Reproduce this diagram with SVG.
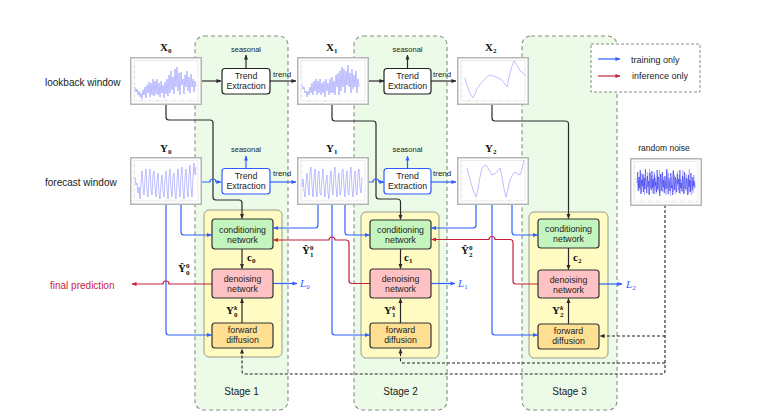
<svg xmlns="http://www.w3.org/2000/svg" xmlns:xlink="http://www.w3.org/1999/xlink" width="760" height="417" viewBox="0 0 760 417">
<style>
.t{font-family:"Liberation Sans",Arial,sans-serif;fill:#1a1a1a}
.n{font-family:"Liberation Sans",Arial,sans-serif;font-size:8.8px;text-anchor:middle;fill:#222}
.s{font-family:"Liberation Sans",Arial,sans-serif;font-size:7.5px;text-anchor:middle;fill:#222}
.m{font-family:"Liberation Serif","Times New Roman",serif;font-weight:bold;font-size:11px;fill:#111}
.sub{font-size:7px}
.L{font-family:"Liberation Serif","Times New Roman",serif;font-style:italic;font-size:11px;fill:#2f5bff}
.stage{fill:#ecfbe8;stroke:#8a8a8a;stroke-width:1.1;stroke-dasharray:4 3}
.panel{fill:#fffbc2;stroke:#9a9a8a;stroke-width:1}
.cond{fill:#c4f5bf;stroke:#333;stroke-width:1.2}
.den{fill:#ffc2c4;stroke:#333;stroke-width:1.2}
.fwd{fill:#ffdf92;stroke:#333;stroke-width:1.2}
.te{fill:#fff;stroke:#222;stroke-width:1.2}
.teb{fill:#fff;stroke:#2f5bff;stroke-width:1.2}
.k{fill:none;stroke:#2a2a2a;stroke-width:1.2;marker-end:url(#ak)}
.kd{fill:none;stroke:#222;stroke-width:1.1;stroke-dasharray:3 2;marker-end:url(#ak)}
.b{fill:none;stroke:#3060ff;stroke-width:1.2;marker-end:url(#ab)}
.r{fill:none;stroke:#c8203c;stroke-width:1.2;marker-end:url(#ar)}
.ser{fill:none;stroke:#8a8aff;stroke-width:0.55;stroke-linejoin:round}
.noise{fill:none;stroke:#3a3af0;stroke-width:0.6;vector-effect:non-scaling-stroke}
.noise2{fill:none;stroke:#9a9aff;stroke-width:0.6;vector-effect:non-scaling-stroke}
</style>
<defs>
<marker id="ak" viewBox="0 0 6 6" refX="5.5" refY="3" markerWidth="5" markerHeight="5" markerUnits="userSpaceOnUse" orient="auto"><path d="M0,0.6 L6,3 L0,5.4 z" fill="#2a2a2a"/></marker>
<marker id="ab" viewBox="0 0 6 6" refX="5.5" refY="3" markerWidth="5" markerHeight="5" markerUnits="userSpaceOnUse" orient="auto"><path d="M0,0.6 L6,3 L0,5.4 z" fill="#3060ff"/></marker>
<marker id="ar" viewBox="0 0 6 6" refX="5.5" refY="3" markerWidth="5" markerHeight="5" markerUnits="userSpaceOnUse" orient="auto"><path d="M0,0.6 L6,3 L0,5.4 z" fill="#c8203c"/></marker>
<g id="pf">
<rect x="0.75" y="0.75" width="70.5" height="46.5" fill="#fff" stroke="#b5b5b5" stroke-width="1.5"/>
<rect x="4" y="3.5" width="64" height="40.5" fill="none" stroke="#dcdcdc" stroke-width="0.6"/>
<path d="M12,44v-1.5M20,44v-1.5M28,44v-1.5M36,44v-1.5M44,44v-1.5M52,44v-1.5M60,44v-1.5M4,9h1.5M4,15h1.5M4,21h1.5M4,27h1.5M4,33h1.5M4,39h1.5" stroke="#bbb" stroke-width="0.5"/>
</g>
</defs>

<g id="stages">
<rect id="stage1" class="stage" x="195" y="36" width="93" height="374" rx="9"/>
<rect id="stage2" class="stage" x="354" y="36" width="93" height="374" rx="9"/>
<rect id="stage3" class="stage" x="522" y="36" width="95" height="374" rx="9"/>
<text class="t" x="241.5" y="395" font-size="10" text-anchor="middle">Stage 1</text>
<text class="t" x="400.5" y="395" font-size="10" text-anchor="middle">Stage 2</text>
<text class="t" x="569.5" y="395" font-size="10" text-anchor="middle">Stage 3</text>
</g>

<g id="panels">
<rect class="panel" x="204" y="210" width="78" height="147" rx="5"/>
<rect class="panel" x="361" y="212" width="78" height="146" rx="5"/>
<rect class="panel" x="529" y="212" width="79" height="146" rx="5"/>
</g>

<g id="legend">
<rect x="591" y="44" width="109" height="48" fill="#fff" stroke="#8a8a8a" stroke-width="1" stroke-dasharray="3 2"/>
<path class="b" d="M598,59 H620" stroke="#6a8cff"/>
<path class="r" d="M598,76 H620"/>
<text class="t" x="631" y="63" font-size="9">training only</text>
<text class="t" x="632" y="79" font-size="9">inference only</text>
</g>

<g id="connectors">
<path class="k" d="M202,81 H221"/>
<path class="k" d="M246,69 V55"/>
<path class="k" d="M270,81 H296"/>
<path class="k" d="M368,81 H384"/>
<path class="k" d="M407.5,69 V55"/>
<path class="k" d="M431,81 H456"/>
<path class="k" d="M166,105 V117 Q166,120 169,120 H210 Q213,120 213,123 V197 Q213,200 216,200 H239 Q242,200 242,203 V218.5"/>
<path class="k" d="M332,105 V118 Q332,121 335,121 H373 Q376,121 376,124 V196 Q376,199 379,199 H397 Q400.5,199 400.5,202 V219.5"/>
<path class="k" d="M492,105 V118 Q492,121 495,121 H565 Q568.5,121 568.5,124 V218.5"/>
<path class="b" d="M202,182 H210 A3,3 0 0 1 216,182 H221"/>
<path class="b" d="M246,169 V156"/>
<path class="b" d="M270,182 H296"/>
<path class="b" d="M368,182 H373 A3,3 0 0 1 379,182 H384"/>
<path class="b" d="M407.5,169 V156"/>
<path class="b" d="M431,182 H456"/>
<path class="b" d="M181,205 V232 Q181,235 184,235 H211.5"/>
<path class="b" d="M166,205 V332 Q166,335 169,335 H211.5"/>
<path class="b" d="M318,205 V225 Q318,228 315,228 H273.5"/>
<path class="b" d="M332,205 V332 Q332,335 335,335 H369.5"/>
<path class="b" d="M345,205 V232 Q345,235 348,235 H369.5"/>
<path class="b" d="M476,205 V225 Q476,228 473,228 H431.5"/>
<path class="b" d="M492,205 V332 Q492,335 495,335 H537.5"/>
<path class="b" d="M512,205 V232 Q512,235 515,235 H537.5"/>
<path class="k" d="M242,249 V268.5"/>
<path class="k" d="M242,323 V298.5"/>
<path class="k" d="M400.5,249 V268.5"/>
<path class="k" d="M400.5,323 V298.5"/>
<path class="k" d="M568.5,248 V269.5"/>
<path class="k" d="M568.5,324 V298.5"/>
<path class="b" d="M273,283.5 H297"/>
<path class="b" d="M431,283.5 H455"/>
<path class="b" d="M599,284 H622"/>
<path class="r" d="M212,284 H169 A3,3 0 0 0 163,284 H132"/>
<path class="r" d="M370,283.5 H352 Q349,283.5 349,280.5 V243 Q349,240 346,240 H335 A3,3 0 0 0 329,240 H273.5"/>
<path class="r" d="M538,284 H516 Q513,284 513,281 V242.5 Q513,239.5 510,239.5 H495 A3,3 0 0 0 489,239.5 H431.5"/>
<path class="kd" d="M665,205 V371 Q665,374 662,374 H245 Q242,374 242,371 V349"/>
<path class="kd" d="M665,363 H403.5 Q400.5,363 400.5,360 V349"/>
<path class="kd" d="M665,336 H600"/>
</g>

<g id="plot-X0" transform="translate(130,57)">
<use xlink:href="#pf" href="#pf"/>
<polyline class="ser" points="5,30 6,35 7,32 8,38 9,34 10,40 11,36 12,42 13,33 14,38 15,30 16,41 17,28 18,36 19,25 20,40 21,26 22,38 23,22 24,39 25,24 26,37 27,22 28,38 29,26 30,40 31,24 32,36 33,28 34,41 35,25 36,37 37,22 38,39 39,18 40,36 41,14 42,33 43,20 44,37 45,12 46,30 47,10 48,34 49,16 50,38 51,15 52,28 53,22 54,37 55,18 56,30 57,14 58,34 59,20 60,36 61,17 62,30 63,22 64,35 65,24 66,30"/>
</g>
<g id="plot-X1" transform="translate(297,57)">
<use xlink:href="#pf" href="#pf"/>
<polyline class="ser" points="5,28 6,32 7,30 8,36 9,34 10,40 11,34 12,38 13,30 14,36 15,26 16,38 17,24 18,34 19,22 20,38 21,24 22,36 23,22 24,38 25,26 26,36 27,24 28,40 29,22 30,34 31,26 32,38 33,22 34,36 35,20 36,36 37,24 38,38 39,18 40,30 41,16 42,38 43,14 44,34 45,10 46,30 47,12 48,36 49,14 50,28 51,8 52,30 53,16 54,36 55,12 56,32 57,18 58,30 59,14 60,36 61,22 62,30"/>
</g>
<g id="plot-X2" transform="translate(457,57)">
<use xlink:href="#pf" href="#pf"/>
<polyline class="ser" points="8,21 10,28 12,34 14,38 16,41 18,37 20,32 22,29 25,25 28,22 31,19 33,18 36,19 39,20 41,21 43,22 45,23 47,26 50,30 51,25 53,16 55,9 57,4 59,6 61,10 63,14 65,15 67,17 69,19"/>
</g>
<g id="plot-Y0" transform="translate(130,157)">
<use xlink:href="#pf" href="#pf"/>
<polyline class="ser" points="5,20 6,28 7,26 8,36 9,30 10,42 11,25 12,14 13,30 14,38 15,22 16,12 17,34 18,40 19,20 20,12 21,32 22,38 23,18 24,14 25,30 26,40 27,24 28,16 29,36 30,42 31,26 32,18 33,34 34,40 35,22 36,14 37,30 38,42 39,20 40,12 41,32 42,40 43,20 44,16 45,36 46,42 47,24 48,12 49,30 50,40 51,18 52,10 53,34 54,42 55,22 56,12 57,32 58,40 59,18 60,8 61,30 62,40 63,20 64,6 65,18 66,10"/>
</g>
<g id="plot-Y1" transform="translate(297,157)">
<use xlink:href="#pf" href="#pf"/>
<polyline class="ser" points="5,30 6,22 7,34 8,40 9,26 10,16 11,30 12,38 13,14 14,10 15,28 16,40 17,22 18,12 19,34 20,40 21,18 22,14 23,36 24,38 25,20 26,12 27,30 28,40 29,24 30,18 31,36 32,42 33,22 34,14 35,32 36,38 37,16 38,10 39,30 40,40 41,22 42,16 43,38 44,34 45,14 46,12 47,30 48,40 49,20 50,14 51,36 52,38 53,18 54,10 55,32 56,40 57,24 58,14 59,34 60,38 61,16 62,12 63,30 64,36 65,20"/>
</g>
<g id="plot-Y2" transform="translate(457,157)">
<use xlink:href="#pf" href="#pf"/>
<polyline class="ser" points="10,11 13,22 16,33 19,40 21,32 23,20 25,11 27,9 29,8 31,11 33,15 35,18 37,17 40,15 43,11 45,20 47,32 49,40 51,32 53,23 56,17 58,15 61,17 63,18 65,12 67,3"/>
</g>
<g id="plot-noise" transform="translate(630,158)">
<use xlink:href="#pf" href="#pf"/>
<polyline class="noise2" transform="translate(7.3,0) scale(0.65,1)" points="0,30 1,23 2,28 3,19 4,32 5,26 6,15 7,34 8,22 9,29 10,17 11,37 12,24 13,20 14,31 15,27 16,14 17,36 18,28 19,11 20,31 21,26 22,18 23,35 24,22 25,29 26,14 27,33 28,20 29,36 30,28 31,18 32,33 33,25 34,12 35,35 36,21 37,26 38,16 39,34 40,29 41,19 42,32 43,23 44,37 45,13 46,27 47,30 48,15 49,33 50,24 51,38 52,27 53,19 54,31 55,12 56,34 57,17 58,24 59,36 60,21 61,28 62,13 63,32 64,30 65,17 66,36 67,21 68,24 69,34 70,12 71,31 72,19 73,35 74,27 75,16 76,33 77,25 78,20 79,36 80,11 81,34 82,23 83,37 84,29 85,22 86,35 87,17 88,30 89,25"/>
<polyline class="noise" transform="translate(7,0) scale(0.65,1)" points="0,25 1,14 2,33 3,19 4,30 5,12 6,36 7,22 8,28 9,16 10,34 11,20 12,31 13,11 14,27 15,35 16,18 17,29 18,23 19,37 20,15 21,26 22,32 23,13 24,30 25,21 26,36 27,17 28,28 29,24 30,34 31,12 32,31 33,19 34,27 35,38 36,16 37,25 38,33 39,14 40,29 41,22 42,35 43,18 44,26 45,31 46,11 47,28 48,36 49,20 50,24 51,33 52,15 53,30 54,27 55,37 56,13 57,23 58,32 59,19 60,29 61,34 62,16 63,26 64,21 65,35 66,12 67,30 68,25 69,33 70,18 71,28 72,36 73,14 74,27 75,31 76,20 77,24 78,37 79,17 80,29 81,22 82,34 83,15 84,26 85,32 86,19 87,28 88,23 89,30"/>
</g>

<g id="te-x0"><rect class="te" x="222" y="68.5" width="48" height="25.5" rx="3"/><text class="n" x="246" y="79">Trend</text><text class="n" x="246" y="89">Extraction</text></g>
<g id="te-x1"><rect class="te" x="384" y="68.5" width="47" height="25.5" rx="3"/><text class="n" x="407.5" y="79">Trend</text><text class="n" x="407.5" y="89">Extraction</text></g>
<g id="te-y0"><rect class="teb" x="222" y="168.5" width="48" height="25.5" rx="3"/><text class="n" x="246" y="179">Trend</text><text class="n" x="246" y="189">Extraction</text></g>
<g id="te-y1"><rect class="teb" x="384" y="168.5" width="47" height="25.5" rx="3"/><text class="n" x="407.5" y="179">Trend</text><text class="n" x="407.5" y="189">Extraction</text></g>

<g id="cond0"><rect class="cond" x="212" y="219" width="61" height="30" rx="3"/><text class="n" x="242.5" y="232.5">conditioning</text><text class="n" x="242.5" y="242.5">network</text></g>
<g id="den0"><rect class="den" x="212" y="269" width="61" height="29" rx="3"/><text class="n" x="242.5" y="282">denoising</text><text class="n" x="242.5" y="292">network</text></g>
<g id="fwd0"><rect class="fwd" x="212" y="323" width="61" height="25" rx="3"/><text class="n" x="242.5" y="332.5">forward</text><text class="n" x="242.5" y="342.5">diffusion</text></g>

<g id="cond1"><rect class="cond" x="370" y="220" width="61" height="29" rx="3"/><text class="n" x="400.5" y="233">conditioning</text><text class="n" x="400.5" y="243">network</text></g>
<g id="den1"><rect class="den" x="370" y="269" width="61" height="29" rx="3"/><text class="n" x="400.5" y="282">denoising</text><text class="n" x="400.5" y="292">network</text></g>
<g id="fwd1"><rect class="fwd" x="370" y="323" width="61" height="25" rx="3"/><text class="n" x="400.5" y="332.5">forward</text><text class="n" x="400.5" y="342.5">diffusion</text></g>

<g id="cond2"><rect class="cond" x="538" y="219" width="61" height="29" rx="3"/><text class="n" x="568.5" y="232">conditioning</text><text class="n" x="568.5" y="242">network</text></g>
<g id="den2"><rect class="den" x="538" y="270" width="61" height="28" rx="3"/><text class="n" x="568.5" y="282.5">denoising</text><text class="n" x="568.5" y="292.5">network</text></g>
<g id="fwd2"><rect class="fwd" x="538" y="324" width="61" height="25" rx="3"/><text class="n" x="568.5" y="333.5">forward</text><text class="n" x="568.5" y="343.5">diffusion</text></g>

<g id="labels">
<text class="t" x="45" y="85.5" font-size="10">lookback window</text>
<text class="t" x="45" y="185.5" font-size="10">forecast window</text>
<text class="t" x="50" y="289" font-size="10" style="fill:#cc2244">final prediction</text>
<text class="t" x="664" y="151" font-size="8.5" text-anchor="middle">random noise</text>
<text class="s" x="246" y="51.5">seasonal</text>
<text class="s" x="407.5" y="51.5">seasonal</text>
<text class="s" x="246" y="151.5">seasonal</text>
<text class="s" x="407.5" y="151.5">seasonal</text>
<text class="t" x="273" y="77" font-size="8">trend</text>
<text class="t" x="433" y="77" font-size="8">trend</text>
<text class="t" x="273" y="176" font-size="8">trend</text>
<text class="t" x="433" y="176" font-size="8">trend</text>
<text class="m" x="160" y="51">X<tspan class="sub" dy="2">0</tspan></text>
<text class="m" x="326" y="51">X<tspan class="sub" dy="2">1</tspan></text>
<text class="m" x="485" y="51">X<tspan class="sub" dy="2">2</tspan></text>
<text class="m" x="160" y="152">Y<tspan class="sub" dy="2">0</tspan></text>
<text class="m" x="326" y="152">Y<tspan class="sub" dy="2">1</tspan></text>
<text class="m" x="485" y="152">Y<tspan class="sub" dy="2">2</tspan></text>
<text class="m" x="247" y="261">c<tspan class="sub" dy="2">0</tspan></text>
<text class="m" x="404" y="261">c<tspan class="sub" dy="2">1</tspan></text>
<text class="m" x="573" y="261">c<tspan class="sub" dy="2">2</tspan></text>
<text class="m" x="178" y="272">Ŷ<tspan class="sub" dy="-4">0</tspan><tspan class="sub" dx="-3.5" dy="7">0</tspan></text>
<text class="m" x="302" y="254">Ŷ<tspan class="sub" dy="-4">0</tspan><tspan class="sub" dx="-3.5" dy="7">1</tspan></text>
<text class="m" x="461" y="254">Ŷ<tspan class="sub" dy="-4">0</tspan><tspan class="sub" dx="-3.5" dy="7">2</tspan></text>
<text class="m" x="226" y="314">Y<tspan class="sub" dy="-4" font-style="italic">k</tspan><tspan class="sub" dx="-3.5" dy="7">0</tspan></text>
<text class="m" x="384" y="314">Y<tspan class="sub" dy="-4" font-style="italic">k</tspan><tspan class="sub" dx="-3.5" dy="7">1</tspan></text>
<text class="m" x="552" y="314">Y<tspan class="sub" dy="-4" font-style="italic">k</tspan><tspan class="sub" dx="-3.5" dy="7">2</tspan></text>
<text class="L" x="300" y="287">L<tspan class="sub" dy="2" font-style="normal">0</tspan></text>
<text class="L" x="458" y="287">L<tspan class="sub" dy="2" font-style="normal">1</tspan></text>
<text class="L" x="626" y="288">L<tspan class="sub" dy="2" font-style="normal">2</tspan></text>
</g>
</svg>
